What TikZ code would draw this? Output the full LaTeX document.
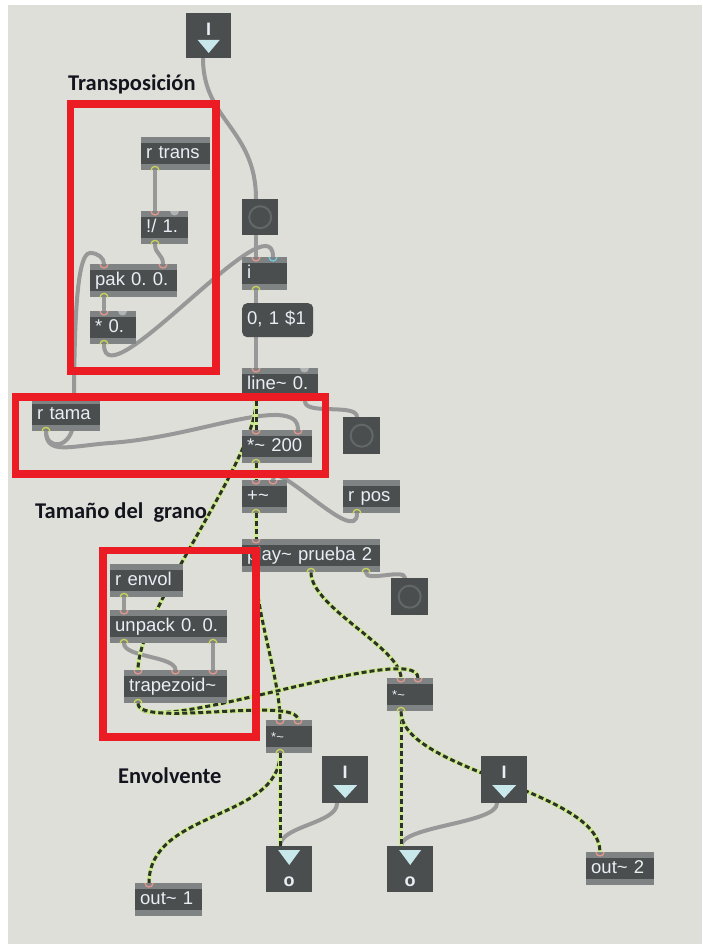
\documentclass[tikz,border=0pt]{standalone}
\usepackage{fontspec}
\newfontfamily\objfont{Liberation Sans}
\newfontfamily\labfont{Carlito}
\frenchspacing
\definecolor{patchbg}{RGB}{223,223,217}
\definecolor{boxdark}{RGB}{74,78,79}
\definecolor{stripgray}{RGB}{128,131,132}
\definecolor{boxtext}{RGB}{232,238,244}
\definecolor{frame}{RGB}{236,28,36}
\definecolor{cordgray}{RGB}{152,152,152}
\definecolor{siggreen}{RGB}{205,235,140}
\definecolor{sigdark}{RGB}{45,50,40}
\definecolor{tri}{RGB}{200,232,236}
\definecolor{ring}{RGB}{98,103,104}
\definecolor{inpink}{RGB}{226,150,140}
\definecolor{incyan}{RGB}{110,200,222}
\definecolor{outyellow}{RGB}{200,212,90}
\definecolor{bumpgray}{RGB}{178,180,180}
\definecolor{labink}{RGB}{20,20,30}
\pgfdeclarelayer{background}
\pgfdeclarelayer{cords}
\pgfsetlayers{background,cords,main}
\tikzset{
  obj/.style={anchor=north west, fill=boxdark, minimum height=33pt,
    inner xsep=5pt, inner ysep=0pt, text height=13pt, text depth=4pt,
    text=boxtext, font=\objfont\fontsize{18.5}{20}\selectfont,
    align=left, text width=#1pt,
    path picture={
      \fill[stripgray] (path picture bounding box.north west) rectangle ([yshift=-6pt]path picture bounding box.north east);
      \fill[stripgray] ([yshift=6pt]path picture bounding box.south west) rectangle (path picture bounding box.south east);
    }},
  smallobj/.style={font=\objfont\fontsize{13}{14}\selectfont},
  msgbox/.style={anchor=north west, fill=boxdark, rounded corners=5pt,
    minimum height=34pt, inner xsep=5pt, inner ysep=0pt, text height=13pt,
    text depth=4pt, text=boxtext, font=\objfont\fontsize{18.5}{20}\selectfont,
    align=left, text width=#1pt},
  bangbox/.style={anchor=north west, fill=boxdark, minimum size=36pt, inner sep=0pt,
    path picture={\draw[ring, line width=2pt] (path picture bounding box.center) circle[radius=11pt];}},
  portbox/.style={anchor=north west, fill=boxdark, inner sep=0pt,
    minimum width=46pt, minimum height=#1pt},
  portglyph/.style={text=boxtext, inner sep=0pt, font=\objfont\bfseries\fontsize{18}{18}\selectfont},
  outglyph/.style={text=boxtext, inner sep=0pt, font=\objfont\bfseries\fontsize{18}{18}\selectfont},
  gcord/.style={draw=cordgray, line width=4pt, line cap=round},
  scord/.style={draw=siggreen, line width=4.2pt,
    postaction={draw=sigdark, line width=3pt, dash pattern=on 5pt off 3pt}},
  redframe/.style={draw=frame, line width=7.5pt},
  lab/.style={anchor=base west, inner sep=0pt, text=labink,
    font=\labfont\bfseries\fontsize{22.5}{24}\selectfont},
}
% inlet / outlet markers on the object strips
\newcommand\inl[3][inpink]{\draw[#1, line width=1.3pt] ([xshift=#3pt-4pt]#2.north west) .. controls +(0,5.3) and +(0,5.3) .. ([xshift=#3pt+4pt]#2.north west);}
\newcommand\outl[2]{\draw[outyellow, line width=1.3pt] ([xshift=#2pt-4pt]#1.south west) .. controls +(0,-5.3) and +(0,-5.3) .. ([xshift=#2pt+4pt]#1.south west);}
\newcommand\freeinl[2]{\fill[bumpgray] ([xshift=#2pt-4.5pt]#1.north west) .. controls +(0,6) and +(0,6) .. ([xshift=#2pt+4.5pt]#1.north west) -- cycle;}
\begin{document}
\begin{tikzpicture}[x=1pt,y=-1pt]
\useasboundingbox (0,0) rectangle (702,944);
\begin{pgfonlayer}{background}
  \fill[white] (0,0) rectangle (702,944);
  \fill[patchbg] (8,5) rectangle (702,944);
\end{pgfonlayer}

% ---- objects ----
\node[portbox=45, minimum width=45pt] (inTop) at (186,13) {};
\node[portglyph] (inTopI) at ([yshift=-16pt]inTop.north) {I};
\fill[tri] ([xshift=-11pt,yshift=-27pt]inTop.north) -- ([xshift=11pt,yshift=-27pt]inTop.north) -- ([yshift=-40pt]inTop.north) -- cycle;

\node[obj=59] (rtrans) at (141,137) {r trans};
\node[obj=37] (div) at (141,211) {!/ 1.};
\node[obj=77] (pak) at (90,264) {pak 0. 0.};
\node[obj=36] (mul) at (90,311) {* 0.};
\node[bangbox] (bangA) at (242,199) {};
\node[obj=35] (intbox) at (242,257) {i};
\node[msgbox=61] (msg) at (242,303) {0, 1 \$1};
\node[obj=66] (line) at (242,368) {line\textasciitilde\ 0.};
\node[obj=58] (rtama) at (32,398) {r tama};
\node[obj=60] (mulsize) at (242,430) {*\textasciitilde\ 200};
\node[bangbox, minimum size=37pt] (bangB) at (343,417) {};
\node[obj=35] (plus) at (242,480) {+\textasciitilde};
\node[obj=47] (rpos) at (343,480) {r pos};
\node[obj=128] (play) at (242,539) {play\textasciitilde\ prueba 2};
\node[bangbox, minimum size=37pt] (bangC) at (391,578) {};
\node[obj=63] (renvol) at (110,564) {r envol};
\node[obj=107] (unpack) at (110,610) {unpack 0. 0.};
\node[obj=93] (trap) at (124,670) {trapezoid\textasciitilde};
\node[obj=36, smallobj] (mulR) at (387,678) {*\textasciitilde};
\node[obj=36, smallobj] (mulL) at (266,720) {*\textasciitilde};

\node[portbox=47] (inMid) at (322,756) {};
\node[portglyph] (inMidI) at ([yshift=-16pt]inMid.north) {I};
\fill[tri] ([xshift=-12pt,yshift=-29pt]inMid.north) -- ([xshift=12pt,yshift=-29pt]inMid.north) -- ([yshift=-42pt]inMid.north) -- cycle;
\node[portbox=47] (inRight) at (481,756) {};
\node[portglyph] (inRightI) at ([yshift=-16pt]inRight.north) {I};
\fill[tri] ([xshift=-12pt,yshift=-29pt]inRight.north) -- ([xshift=12pt,yshift=-29pt]inRight.north) -- ([yshift=-42pt]inRight.north) -- cycle;

\node[portbox=46] (outL) at (266,846) {};
\fill[tri] ([xshift=-11pt,yshift=-4pt]outL.north) -- ([xshift=11pt,yshift=-4pt]outL.north) -- ([yshift=-19pt]outL.north) -- cycle;
\node[outglyph, anchor=base] (outLo) at ([yshift=-40pt]outL.north) {o};
\node[portbox=46] (outR) at (387,846) {};
\fill[tri] ([xshift=-11pt,yshift=-4pt]outR.north) -- ([xshift=11pt,yshift=-4pt]outR.north) -- ([yshift=-19pt]outR.north) -- cycle;
\node[outglyph, anchor=base] (outRo) at ([yshift=-40pt]outR.north) {o};

\node[obj=57] (out1) at (135,883) {out\textasciitilde\ 1};
\node[obj=58] (out2) at (586,852) {out\textasciitilde\ 2};

% ---- patch cords ----
\begin{pgfonlayer}{cords}
  % control cords
  \draw[gcord] ([xshift=17pt]inTop.south west) .. controls +(0,62) and +(0,-70) .. ([xshift=14pt]bangA.north west);
  \draw[gcord] ([xshift=14pt]bangA.south west) -- ([xshift=14pt]intbox.north west);
  \draw[gcord] ([xshift=14pt]mul.south west) .. controls +(0,60) and +(0,-60) .. ([xshift=31pt]intbox.north west);
  \draw[gcord] ([xshift=14pt]rtrans.south west) -- ([xshift=14pt]div.north west);
  \draw[gcord] ([xshift=14pt]div.south west) .. controls +(0,10) and +(0,-10) .. ([xshift=73pt]pak.north west);
  \draw[gcord] ([xshift=14pt]pak.south west) -- ([xshift=14pt]mul.north west);
  \draw[gcord] ([xshift=14pt]intbox.south west) -- ([xshift=14pt]msg.north west);
  \draw[gcord] ([xshift=14pt]msg.south west) -- ([xshift=14pt]line.north west);
  \draw[gcord] ([xshift=14pt]rtama.south west) .. controls +(0,19) and (72,450) .. (74,420)
       .. controls (74,330) and (76,253) .. (90,253) .. controls (98,253) and +(0,-6) .. ([xshift=14pt]pak.north west);
  \draw[gcord] ([xshift=14pt]rtama.south west) .. controls +(0,24) and (70,446) .. (110,443)
       .. controls (180,438) and (240,414) .. (278,415) .. controls (292,416) and +(0,-10) .. ([xshift=56pt]mulsize.north west);
  \draw[gcord] ([xshift=63pt]line.south west) .. controls +(0,14) and +(0,-14) .. ([xshift=14pt]bangB.north west);
  \draw[gcord] ([xshift=14pt]rpos.south west) .. controls +(0,35) and +(0,-25) .. ([xshift=31pt]plus.north west);
  \draw[gcord] ([xshift=124pt]play.south west) .. controls +(0,10) and +(0,-10) .. ([xshift=14pt]bangC.north west);
  \draw[gcord] ([xshift=14pt]renvol.south west) -- ([xshift=14pt]unpack.north west);
  \draw[gcord] ([xshift=14pt]unpack.south west) .. controls +(0,14) and +(0,-14) .. ([xshift=51.5pt]trap.north west);
  \draw[gcord] ([xshift=103pt]unpack.south west) -- ([xshift=89pt]trap.north west);
  \draw[gcord] ([xshift=15pt]inMid.south west) .. controls +(0,20) and +(0,-20) .. ([xshift=14pt]outL.north west);
  \draw[gcord] ([xshift=16pt]inRight.south west) .. controls +(0,20) and +(0,-20) .. ([xshift=14pt]outR.north west);
  % signal cords
  \draw[scord] ([xshift=14pt]line.south west) .. controls +(0,59) and +(0,-60) .. ([xshift=14pt]trap.north west);
  \draw[scord] ([xshift=14pt]line.south west) -- ([xshift=14pt]mulsize.north west);
  \draw[scord] ([xshift=14pt]mulsize.south west) -- ([xshift=14pt]plus.north west);
  \draw[scord] ([xshift=14pt]plus.south west) -- ([xshift=14pt]play.north west);
  \draw[scord] ([xshift=14pt]play.south west) .. controls +(0,40) and +(0,-40) .. ([xshift=14pt]mulL.north west);
  \draw[scord] ([xshift=69pt]play.south west) .. controls +(0,35) and +(0,-30) .. ([xshift=14pt]mulR.north west);
  \draw[scord] ([xshift=14pt]trap.south west) .. controls +(0,40) and +(0,-40) .. ([xshift=31pt]mulR.north west);
  \draw[scord] ([xshift=14pt]trap.south west) .. controls +(0,25) and +(0,-25) .. ([xshift=32pt]mulL.north west);
  \draw[scord] ([xshift=14pt]mulL.south west) .. controls +(0,67) and +(0,-73) .. ([xshift=14pt]out1.north west);
  \draw[scord] ([xshift=14pt]mulL.south west) -- ([xshift=14pt]outL.north west);
  \draw[scord] ([xshift=14pt]mulR.south west) -- ([xshift=14pt]outR.north west);
  \draw[scord] ([xshift=14pt]mulR.south west) .. controls +(0,59) and +(0,-62) .. ([xshift=14pt]out2.north west);
\end{pgfonlayer}

% ---- inlets and outlets ----
\inl{div}{14} \freeinl{div}{33}
\inl{pak}{14} \inl{pak}{73}
\inl{mul}{14} \freeinl{mul}{32}
\inl{intbox}{14} \inl[incyan]{intbox}{31}
\inl{line}{14} \freeinl{line}{62}
\inl{mulsize}{14} \inl{mulsize}{56}
\inl{plus}{14} \inl{plus}{31}
\inl{play}{14}
\inl{unpack}{14}
\inl{trap}{14} \inl{trap}{51.5} \inl{trap}{89}
\inl{mulR}{14} \inl{mulR}{31}
\inl{mulL}{14} \inl{mulL}{32}
\inl{out1}{14} \inl{out2}{14}
\outl{rtrans}{14} \outl{div}{14} \outl{pak}{14} \outl{mul}{14}
\outl{intbox}{14} \outl{rtama}{14} \outl{line}{14} \outl{line}{63}
\outl{mulsize}{14} \outl{rpos}{14} \outl{plus}{14}
\outl{play}{14} \outl{play}{69} \outl{play}{124}
\outl{renvol}{14} \outl{unpack}{14} \outl{unpack}{103}
\outl{trap}{14} \outl{mulR}{14} \outl{mulL}{14}

% ---- section frames ----
\draw[redframe] (70.5,104) rectangle (216,371);
\draw[redframe] (15.5,397) rectangle (325.5,474);
\draw[redframe] (103,550.5) rectangle (256,737);

% ---- section labels ----
\node[lab] (labTrans) at (68,91) {Transposición};
\node[lab] (labSize) at (35,518) {Tamaño del\ \ grano};
\node[lab] (labEnv) at (118,783) {Envolvente};
\end{tikzpicture}
\end{document}
